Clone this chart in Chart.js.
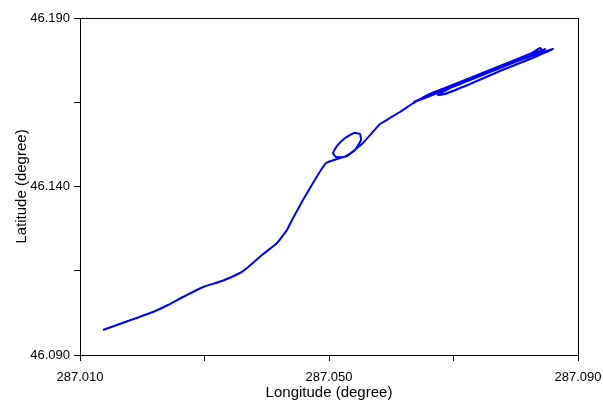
<!DOCTYPE html>
<html>
<head>
<meta charset="utf-8">
<script src="https://cdn.jsdelivr.net/npm/chart.js@4.4.1/dist/chart.umd.min.js"></script>
<style>
  html, body { margin: 0; padding: 0; background: #fff; }
  #wrap { width: 603px; height: 402px; position: relative; }
</style>
</head>
<body>
<div id="wrap"><canvas id="track"></canvas></div>
<script>
// track, in order along the path
const lon = [
  287.01369, 287.01771, 287.02173, 287.02414, 287.02655, 287.02976, 287.03281, 287.03570,
  287.03683, 287.03924, 287.04165, 287.04325, 287.04406, 287.04582, 287.04743, 287.04871,
  287.04952, 287.05032, 287.05177, 287.05289, 287.05418, 287.05514, 287.05498, 287.05402,
  287.05257, 287.05129, 287.05064, 287.05112, 287.05241, 287.05370, 287.05546, 287.05691,
  287.05819, 287.05980, 287.06141, 287.06333, 287.06462, 287.06655, 287.06863, 287.07185,
  287.07586, 287.07988, 287.08261, 287.08390, 287.08422, 287.08149, 287.07747, 287.07265,
  287.06863, 287.06430, 287.06365, 287.06622, 287.07104, 287.07586, 287.08068, 287.08598,
  287.08229, 287.07747, 287.07265, 287.06863, 287.06751, 287.06944, 287.07426, 287.07908,
  287.08309, 287.08470, 287.08357
];
const lat = [
  46.09742, 46.10009, 46.10276, 46.10484, 46.10721, 46.11018, 46.11196, 46.11433,
  46.11582, 46.11967, 46.12323, 46.12709, 46.13006, 46.13599, 46.14104, 46.14490,
  46.14697, 46.14757, 46.14846, 46.14905, 46.15083, 46.15380, 46.15558, 46.15588,
  46.15439, 46.15202, 46.14994, 46.14875, 46.14875, 46.15024, 46.15291, 46.15588,
  46.15855, 46.16033, 46.16211, 46.16448, 46.16596, 46.16774, 46.16923, 46.17160,
  46.17457, 46.17754, 46.17961, 46.18110, 46.18051, 46.17843, 46.17546, 46.17190,
  46.16893, 46.16567, 46.16507, 46.16685, 46.17042, 46.17398, 46.17754, 46.18080,
  46.17783, 46.17427, 46.17042, 46.16745, 46.16715, 46.16923, 46.17279, 46.17635,
  46.17932, 46.18080, 46.17961
];

const xTicks = [287.010, 287.030, 287.050, 287.070, 287.090];
const xTickLabels = ["287.010", "", "287.050", "", "287.090"];
const yTicks = [46.090, 46.115, 46.140, 46.165, 46.190];
const yTickLabels = ["46.090", "", "46.140", "", "46.190"];

const tickFont = { family: "'Liberation Sans', Arial, sans-serif", size: 13 };
const titleFont = { family: "'Liberation Sans', Arial, sans-serif", size: 15 };

// box around the plot area (top and right edges)
const frame = {
  id: "frame",
  afterDraw(chart) {
    const { ctx, chartArea: a } = chart;
    ctx.save();
    ctx.strokeStyle = "#000";
    ctx.lineWidth = 1;
    ctx.strokeRect(Math.round(a.left) + 0.5, Math.round(a.top) + 0.5, Math.round(a.right - a.left), Math.round(a.bottom - a.top));
    ctx.restore();
  }
};

new Chart(document.getElementById("track"), {
  type: "scatter",
  data: {
    datasets: [{
      data: lon.map((x, i) => ({ x, y: lat[i] })),
      showLine: true,
      borderColor: "#0000ff",
      borderWidth: 2,
      pointRadius: 0,
      tension: 0.12,
      fill: false
    }]
  },
  options: {
    responsive: true,
    maintainAspectRatio: false,
    animation: false,
    layout: { padding: { top: 18, right: 25, left: 0, bottom: 0 } },
    plugins: { legend: { display: false }, tooltip: { enabled: false } },
    scales: {
      x: {
        type: "linear",
        min: 287.010,
        max: 287.090,
        afterBuildTicks: s => { s.ticks = xTicks.map(value => ({ value })); },
        afterFit: s => { s.height = 47; s.paddingLeft = 0; s.paddingRight = 0; },
        ticks: {
          color: "#000",
          font: tickFont,
          padding: 9,
          maxRotation: 0,
          autoSkip: false,
          callback: (v, i) => xTickLabels[i]
        },
        grid: { drawOnChartArea: false, drawTicks: true, tickLength: 6, color: "#000" },
        border: { display: true, color: "#000", width: 1 },
        title: { display: true, text: "Longitude (degree)", color: "#000", font: titleFont, padding: { top: 0, bottom: 0 } }
      },
      y: {
        type: "linear",
        min: 46.090,
        max: 46.190,
        afterBuildTicks: s => { s.ticks = yTicks.map(value => ({ value })); },
        afterFit: s => { s.width = 80; s.paddingTop = 0; s.paddingBottom = 0; },
        ticks: {
          color: "#000",
          font: tickFont,
          padding: 4,
          autoSkip: false,
          callback: (v, i) => yTickLabels[i]
        },
        grid: { drawOnChartArea: false, drawTicks: true, tickLength: 6, color: "#000" },
        border: { display: true, color: "#000", width: 1 },
        title: { display: true, text: "Latitude (degree)", color: "#000", font: titleFont, padding: { top: 13, bottom: 0 } }
      }
    }
  },
  plugins: [frame]
});
</script>
</body>
</html>
